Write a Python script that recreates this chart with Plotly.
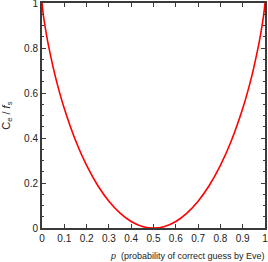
import plotly.graph_objects as go

# values
p_vals = [0.0, 0.005, 0.01, 0.02, 0.03, 0.05, 0.07, 0.1, 0.15, 0.2, 0.25, 0.3, 0.35, 0.4, 0.45, 0.5,
          0.55, 0.6, 0.65, 0.7, 0.75, 0.8, 0.85, 0.9, 0.93, 0.95, 0.97, 0.98, 0.99, 0.995, 1.0]
ce_fs = [1.0, 0.955, 0.919, 0.859, 0.806, 0.714, 0.634, 0.531, 0.390, 0.278, 0.189, 0.119, 0.066, 0.029, 0.007, 0.0,
         0.007, 0.029, 0.066, 0.119, 0.189, 0.278, 0.390, 0.531, 0.634, 0.714, 0.806, 0.859, 0.919, 0.955, 1.0]
x_ticks = [0, 0.1, 0.2, 0.3, 0.4, 0.5, 0.6, 0.7, 0.8, 0.9, 1]
x_labels = ["0", "0.1", "0.2", "0.3", "0.4", "0.5", "0.6", "0.7", "0.8", "0.9", "1"]
y_ticks = [0, 0.2, 0.4, 0.6, 0.8, 1]
y_labels = ["0", "0.2", "0.4", "0.6", "0.8", "1"]

axis_color = "#3a3a3a"
font = dict(family="Liberation Sans, Arial, sans-serif", size=10, color="#222222")

fig = go.Figure()
fig.add_trace(go.Scatter(x=p_vals, y=ce_fs, mode="lines",
                         line=dict(color="#ff0000", width=1.6, shape="spline", smoothing=0.6),
                         showlegend=False, hoverinfo="skip"))

fig.update_layout(
    width=268, height=262,
    margin=dict(l=42, r=3, t=3, b=34, autoexpand=False),
    paper_bgcolor="white", plot_bgcolor="white",
    font=font,
    xaxis=dict(range=[0, 1], tickvals=x_ticks, ticktext=x_labels, ticks="inside", ticklen=4,
               tickwidth=1, tickcolor=axis_color, showline=True, linecolor=axis_color, linewidth=2,
               mirror="ticks", showgrid=False, zeroline=False, tickfont=font, automargin=False,
               ticklabeloverflow="allow"),
    yaxis=dict(range=[0, 1], tickvals=y_ticks, ticktext=y_labels, ticks="inside", ticklen=4,
               tickwidth=1, tickcolor=axis_color, showline=True, linecolor=axis_color, linewidth=2,
               mirror="ticks", showgrid=False, zeroline=False, tickfont=font, automargin=False,
               ticklabeloverflow="allow",
               minor=dict(dtick=0.05, ticks="inside", ticklen=2, tickcolor=axis_color, showgrid=False)),
)

fig.add_annotation(xref="paper", yref="paper", x=1.01, y=-0.095, xanchor="right", yanchor="top",
                   text="<i>p</i>  (probability of correct guess by Eve)", showarrow=False,
                   font=dict(family="Liberation Sans, Arial, sans-serif", size=9, color="#222222"))
fig.add_annotation(xref="paper", yref="paper", x=-0.16, y=0.5, xanchor="center", yanchor="middle",
                   text="C<sub>e</sub> / <i>f</i><sub>s</sub>", textangle=-90, showarrow=False,
                   font=dict(family="Liberation Sans, Arial, sans-serif", size=11, color="#222222"))

fig.write_html("out.html", config={"displayModeBar": False},
               post_script="document.body.style.margin='0px';document.body.style.overflow='hidden';")
